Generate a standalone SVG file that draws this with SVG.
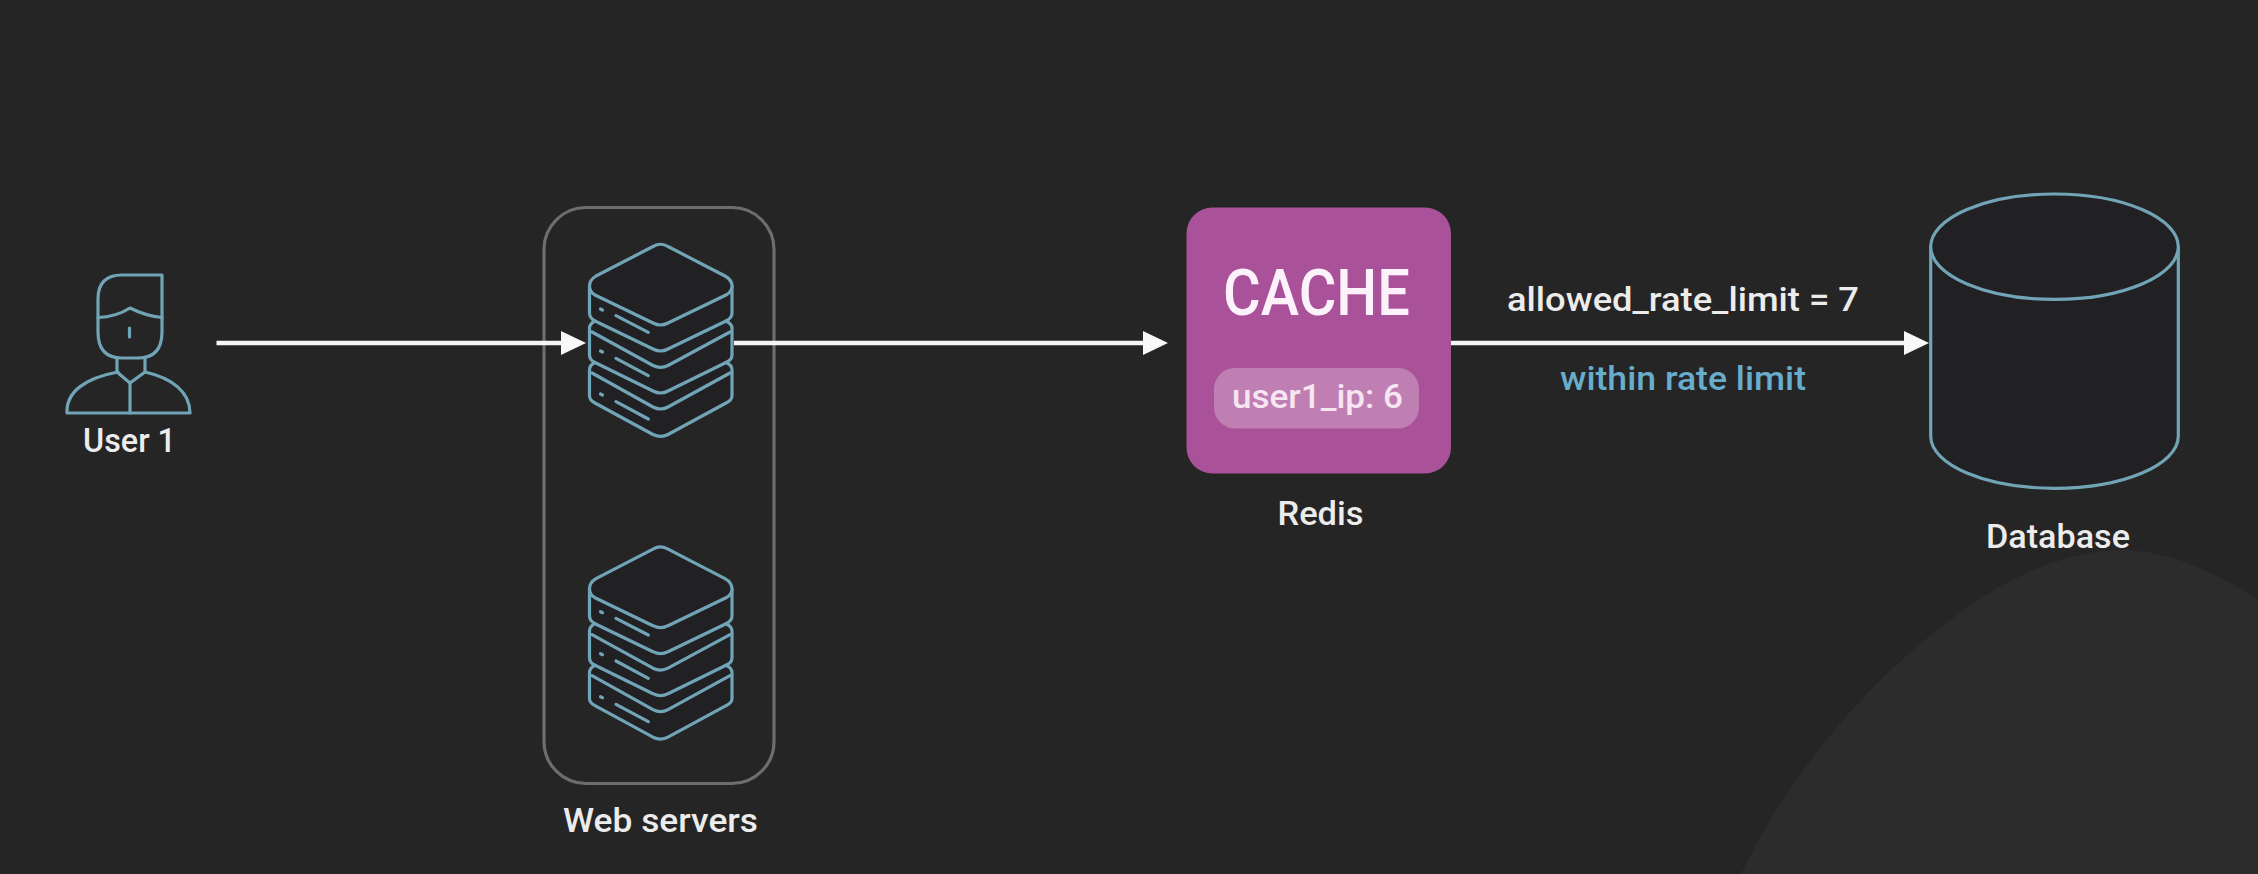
<svg xmlns="http://www.w3.org/2000/svg" xmlns:xlink="http://www.w3.org/1999/xlink" width="2258" height="874" viewBox="0 0 2258 874">
<style>
.ic{fill:none;stroke:#72a4b8;stroke-width:3.2;stroke-linecap:round;stroke-linejoin:round}
.body{fill:#212023;stroke:#72a4b8;stroke-width:3.2;stroke-linejoin:round}
.conn{stroke:#f5f5f5;stroke-width:4.5;fill:none;marker-end:url(#head)}
text{font-family:"Roboto","Liberation Sans",sans-serif;font-weight:500;fill:#ececec;text-anchor:start}
.lbl{font-size:34px}
</style>
<defs>
<marker id="head" markerUnits="userSpaceOnUse" markerWidth="27" markerHeight="26" refX="2" refY="13" orient="auto"><path d="M0 1 L25 13 L0 25 Z" fill="#f8f8f8"/></marker>
<g id="srv">
<path class="body" d="M595 321 Q589.5 324 589.5 328 V355 Q589.5 360 595 362.5 Q589.5 365 589.5 370 V396 Q589.5 400 595 403 L653 434.5 Q660.7 438.3 668 434.5 L726 403 Q732 400 732 396 V370 Q732 365 726 362.5 Q732 360 732 355 V328 Q732 324 726 321 Q732 318 732 313 V286 H589.5 V313 Q589.5 318 595 321Z"/>
<path class="ic" d="M595 321 L653 349 Q660.7 353 668 349 L726 321"/>
<path class="ic" d="M595 362.5 L653 391 Q660.7 395 668 391 L726 362.5"/>
<path class="ic" d="M592 332 L653 365.5 Q660.7 369.3 668 365.5 L730 332"/>
<path class="ic" d="M592 373 L653 407 Q660.7 411 668 407 L730 373"/>
<path class="body" d="M653 246.5 Q660.7 242 668 246.5 L725 276 Q732 280 732 286 Q732 292 726 295 L668 323 Q660.7 327 653 323 L595 295 Q589.5 292 589.5 286 Q589.5 280 596 276 Z"/>
<path class="ic" d="M616 315.6 L648.3 332.3 M616 358.3 L648.3 375.6 M616 401.6 L648.3 419 M600.5 309 L602.5 310 M600.5 351 L602.5 352 M600.5 394 L602.5 395"/>
</g>
</defs>
<rect id="background" width="2258" height="874" fill="#252525"/>
<path id="backdrop-curve" d="M1741 874 C1800 750 1900 650 1983 597 C2030 567 2075 552 2115 550 C2170 548 2220 575 2258 600 V874 Z" fill="#2c2c2c"/>

<g id="user1">
<path class="ic" d="M161.7 275 H122 Q98 275 98 299 V332 Q98 358 122 358 H138 Q162 358 162 332 V275 Z"/>
<path class="ic" d="M98 317.5 Q116 317 130 308 Q146 316 162 317.5"/>
<path class="ic" d="M129.5 328 V337"/>
<path class="ic" d="M117 359 V372 L130 383 L145 372 V359"/>
<path class="ic" d="M118 372 C85 378 66 392 67 413 H190 C190 392 172 378 145 372"/>
<path class="ic" d="M130 383 V413"/>
<text class="lbl" x="83" y="452" textLength="93" lengthAdjust="spacingAndGlyphs">User 1</text>
</g>

<g id="web-servers">
<rect x="544" y="207.5" width="230" height="576" rx="42" fill="none" stroke="#6d6d6d" stroke-width="3.2"/>
<text class="lbl" x="563" y="832" textLength="195" lengthAdjust="spacingAndGlyphs">Web servers</text>
</g>

<g id="connectors">
<line class="conn" x1="216.5" y1="343" x2="563" y2="343"/>
<line class="conn" x1="734" y1="343" x2="1145" y2="343"/>
<line class="conn" x1="1451" y1="343" x2="1906" y2="343"/>
<text class="lbl" x="1507" y="311" textLength="352" lengthAdjust="spacingAndGlyphs">allowed_rate_limit = 7</text>
<text class="lbl" x="1560" y="390" textLength="246" lengthAdjust="spacingAndGlyphs" style="fill:#68adcc">within rate limit</text>
</g>

<g id="server-1"><use xlink:href="#srv" href="#srv"/></g>
<g id="server-2"><use xlink:href="#srv" href="#srv" y="302.7"/></g>

<g id="redis">
<rect x="1186.5" y="207.5" width="264.5" height="266" rx="26" fill="#a9529a"/>
<rect x="1214" y="368" width="205" height="60.5" rx="21" fill="#c07fb3"/>
<text x="1223" y="315" font-size="65" textLength="187" lengthAdjust="spacingAndGlyphs" style="fill:#fdf2fb">CACHE</text>
<text class="lbl" x="1232" y="408" textLength="171" lengthAdjust="spacingAndGlyphs" style="fill:#f6e6f2">user1_ip: 6</text>
<text class="lbl" x="1277.5" y="525" textLength="86" lengthAdjust="spacingAndGlyphs">Redis</text>
</g>

<g id="database">
<path class="body" d="M1930.7 246.7 V436 C1930.7 465 1986 488.3 2054.5 488.3 C2123 488.3 2178.3 465 2178.3 436 V246.7 Z"/>
<ellipse class="body" cx="2054.5" cy="246.7" rx="123.8" ry="52.7"/>
<text class="lbl" x="1986" y="548" textLength="144" lengthAdjust="spacingAndGlyphs">Database</text>
</g>
</svg>
